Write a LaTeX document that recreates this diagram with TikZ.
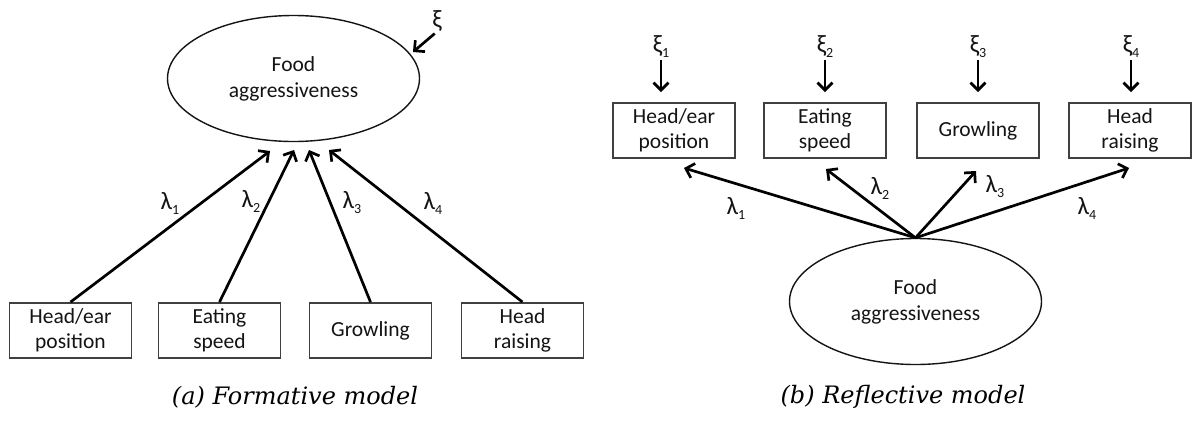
\documentclass[tikz,border=0pt]{standalone}
\usepackage{fontspec}
\newfontfamily\calibri{Carlito}
\newfontfamily\captfont{DejaVu Serif}
\usetikzlibrary{shapes.geometric,arrows.meta}
\definecolor{ink}{HTML}{141414}
\definecolor{boxc}{HTML}{404040}
\newcommand\lsub[1]{\raisebox{-5pt}{\fontsize{14}{14}\selectfont #1}}
\tikzset{
  lbl/.style={font=\calibri\fontsize{25}{25}\selectfont, text=ink, inner sep=0pt},
  ind/.style={draw=boxc, line width=1.9pt, minimum width=122pt, minimum height=55pt,
    inner sep=0pt, align=center, font=\calibri\fontsize{21.5}{25}\selectfont, text=ink},
  lat/.style={ellipse, draw=ink, line width=1.4pt, minimum width=252pt, minimum height=126pt,
    inner sep=0pt, align=center, font=\calibri\fontsize{21.5}{26}\selectfont, text=ink},
  link/.style={draw=black, line width=2.7pt, -{Straight Barb[length=7.5pt,width=15pt]}},
  capt/.style={font=\captfont\itshape\fontsize{24}{24}\selectfont, text=black, inner sep=0pt}
}
\begin{document}
\begin{tikzpicture}[x=1pt,y=-1pt]
\useasboundingbox[fill=white] (0,0) rectangle (1192,421);

% ---------- (a) formative model ----------
\node[lat] (ellL) at (293.5,78.5) {Food\\aggressiveness};
\node[lbl] (xiL) at (437,21) {ξ};
\coordinate (xiLe) at (413,52);
\draw[link, shorten <=3pt] (xiL.south) -- (xiLe);

\node[ind] (bL1) at (70.5,330.5) {Head/ear\\position};
\node[ind] (bL2) at (219.5,330.5) {Eating\\speed};
\node[ind] (bL3) at (370.5,330.5) {Growling};
\node[ind] (bL4) at (522.5,330.5) {Head\\raising};

\coordinate (tL1) at (270,151);
\coordinate (tL2) at (294,150);
\coordinate (tL3) at (309,150);
\coordinate (tL4) at (329,150);
\draw[link] (bL1.north) -- (tL1);
\draw[link] (bL2.north) -- (tL2);
\draw[link] (bL3.north) -- (tL3);
\draw[link] (bL4.north) -- (tL4);

\node[lbl] (lL1) at (170,203) {λ\lsub{1}};
\node[lbl] (lL2) at (251,201) {λ\lsub{2}};
\node[lbl] (lL3) at (352,203) {λ\lsub{3}};
\node[lbl] (lL4) at (433,203) {λ\lsub{4}};

\node[capt] (capA) at (295,397) {(a) Formative model};

% ---------- (b) reflective model ----------
\node[ind] (bR1) at (674,130.5) {Head/ear\\position};
\node[ind] (bR2) at (825,130.5) {Eating\\speed};
\node[ind] (bR3) at (978,130.5) {Growling};
\node[ind] (bR4) at (1130,130.5) {Head\\raising};

\node[lbl] (xiR1) at (661,47) {ξ\lsub{1}};
\node[lbl] (xiR2) at (825,47) {ξ\lsub{2}};
\node[lbl] (xiR3) at (978,47) {ξ\lsub{3}};
\node[lbl] (xiR4) at (1131,47) {ξ\lsub{4}};
\draw[link, shorten <=2pt, shorten >=10pt] (xiR1.south) -- (xiR1.south |- bR1.north);
\draw[link, shorten <=2pt, shorten >=10pt] (xiR2.south) -- (xiR2.south |- bR2.north);
\draw[link, shorten <=2pt, shorten >=10pt] (xiR3.south) -- (xiR3.south |- bR3.north);
\draw[link, shorten <=2pt, shorten >=10pt] (xiR4.south) -- (xiR4.south |- bR4.north);

\node[lat] (ellR) at (915.5,301.5) {Food\\aggressiveness};

\coordinate (tR1) at (684,168);
\coordinate (tR2) at (826,169);
\coordinate (tR3) at (976,171);
\coordinate (tR4) at (1129,168);
\draw[link] (ellR.north) -- (tR1);
\draw[link] (ellR.north) -- (tR2);
\draw[link] (ellR.north) -- (tR3);
\draw[link] (ellR.north) -- (tR4);

\node[lbl] (lR1) at (736,208) {λ\lsub{1}};
\node[lbl] (lR2) at (880,188) {λ\lsub{2}};
\node[lbl] (lR3) at (995,187) {λ\lsub{3}};
\node[lbl] (lR4) at (1087,208) {λ\lsub{4}};

\node[capt] (capB) at (903,397) {(b) Reflective model};
\end{tikzpicture}
\end{document}
